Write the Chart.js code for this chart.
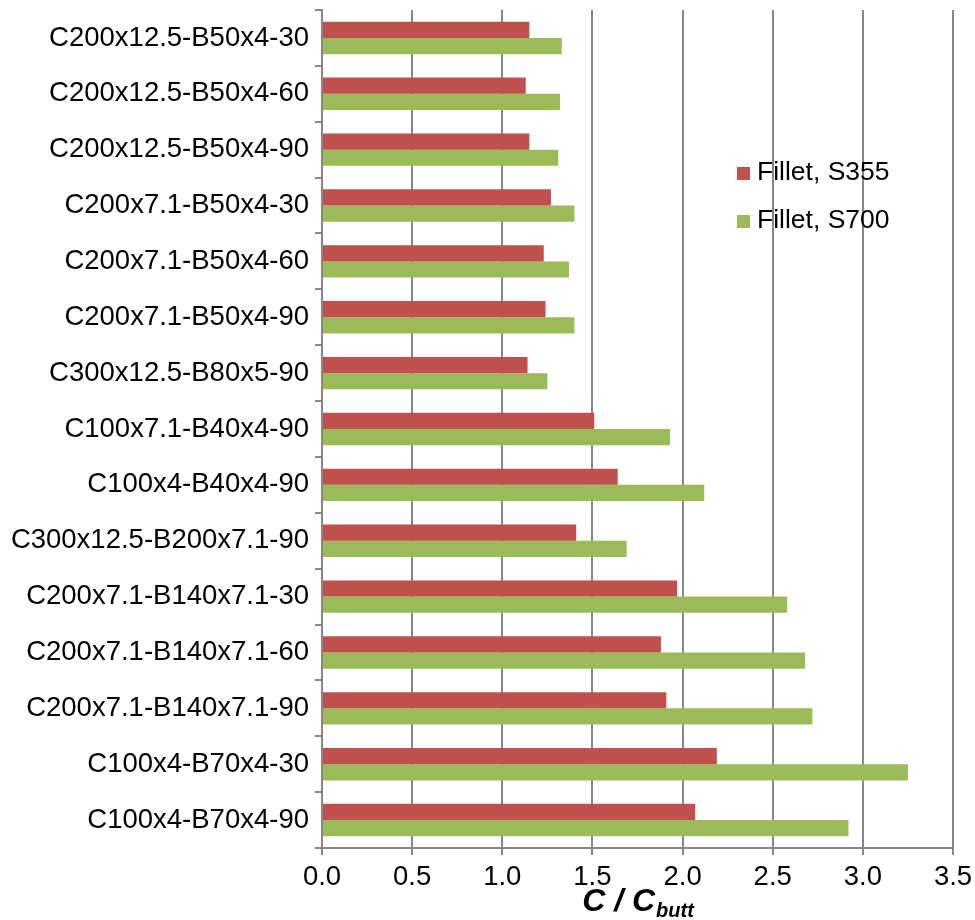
<!DOCTYPE html>
<html lang="en">

<head>
  <meta charset="UTF-8">
  <title>C / Cbutt</title>
  <style>
    html, body {
      margin: 0;
      padding: 0;
      background-color: #ffffff;
    }

    div {
      width: 975px;
      height: 920px;
    }
  </style>
</head>

<body>
  <div>
    <canvas id="myChart"></canvas>
  </div>

  <script src="https://cdn.jsdelivr.net/npm/chart.js"></script>

  <script>
    /* data */
    const categories = [
      'C200x12.5-B50x4-30', 'C200x12.5-B50x4-60', 'C200x12.5-B50x4-90',
      'C200x7.1-B50x4-30', 'C200x7.1-B50x4-60', 'C200x7.1-B50x4-90',
      'C300x12.5-B80x5-90', 'C100x7.1-B40x4-90', 'C100x4-B40x4-90',
      'C300x12.5-B200x7.1-90', 'C200x7.1-B140x7.1-30', 'C200x7.1-B140x7.1-60',
      'C200x7.1-B140x7.1-90', 'C100x4-B70x4-30', 'C100x4-B70x4-90'
    ]
    const filletS355 = [1.15, 1.13, 1.15, 1.27, 1.23, 1.24, 1.14, 1.51, 1.64, 1.41, 1.97, 1.88, 1.91, 2.19, 2.07]
    const filletS700 = [1.33, 1.32, 1.31, 1.40, 1.37, 1.40, 1.25, 1.93, 2.12, 1.69, 2.58, 2.68, 2.72, 3.25, 2.92]
    const xTickMin = 0
    const xTickMax = 3.5
    const xTickStep = 0.5

    const gridGray = '#878787'
    const fontName = '"Liberation Sans", Arial, sans-serif'

    /* legend inside the plot + axis title with subscript */
    const extras = {
      id: 'extras',
      afterDraw(chart) {
        const c = chart.ctx
        const area = chart.chartArea
        c.save()
        // legend
        c.font = '26.5px ' + fontName
        c.textBaseline = 'middle'
        c.textAlign = 'left'
        chart.data.datasets.forEach((ds, i) => {
          const y = 173 + i * 48
          c.fillStyle = ds.backgroundColor
          c.fillRect(737, y - 6, 13, 13)
          c.fillStyle = '#000'
          c.fillText(ds.label, 757, y)
        })
        // axis title: C / C_butt
        const main = 'C / C'
        const sub = 'butt'
        c.textBaseline = 'alphabetic'
        c.font = 'italic bold 32px ' + fontName
        const w1 = c.measureText(main).width
        c.font = 'italic bold 20px ' + fontName
        const w2 = c.measureText(sub).width
        const x0 = (area.left + area.right) / 2 - (w1 + w2) / 2
        c.fillStyle = '#000'
        c.font = 'italic bold 32px ' + fontName
        c.fillText(main, x0, 911)
        c.font = 'italic bold 20px ' + fontName
        c.fillText(sub, x0 + w1 + 1, 917)
        c.restore()
      }
    }

    const ctx = document.getElementById('myChart');
    new Chart(ctx, {
      type: 'bar',
      data: {
        labels: categories,
        datasets: [{
          label: 'Fillet, S355',
          data: filletS355,
          backgroundColor: '#C0504D'
        }, {
          label: 'Fillet, S700',
          data: filletS700,
          backgroundColor: '#9BBB59'
        }]
      },
      options: {
        indexAxis: 'y',
        responsive: true,
        maintainAspectRatio: false,
        animation: false,
        categoryPercentage: 0.58,
        barPercentage: 1.0,
        layout: {
          padding: { top: 10, right: 22, left: 0, bottom: 0 }
        },
        plugins: {
          legend: { display: false },
          tooltip: { enabled: false }
        },
        scales: {
          x: {
            min: xTickMin,
            max: xTickMax,
            ticks: {
              stepSize: xTickStep,
              color: '#000',
              padding: 6,
              font: { family: fontName, size: 27.5 },
              callback: v => Number(v).toFixed(1)
            },
            grid: { color: gridGray, lineWidth: 2, tickLength: 7 },
            border: { color: gridGray, width: 2 },
            afterFit(scale) {
              scale.height = 72
              scale.paddingLeft = 0
              scale.paddingRight = 0
            }
          },
          y: {
            ticks: {
              color: '#000',
              padding: 6,
              font: { family: fontName, size: 27.5 }
            },
            grid: { offset: true, drawOnChartArea: false, color: gridGray, lineWidth: 2, tickLength: 7 },
            border: { color: gridGray, width: 2 },
            afterFit(scale) {
              scale.width = 322
              scale.paddingTop = 0
              scale.paddingBottom = 0
            }
          }
        }
      },
      plugins: [extras]
    });
  </script>
</body>

</html>
